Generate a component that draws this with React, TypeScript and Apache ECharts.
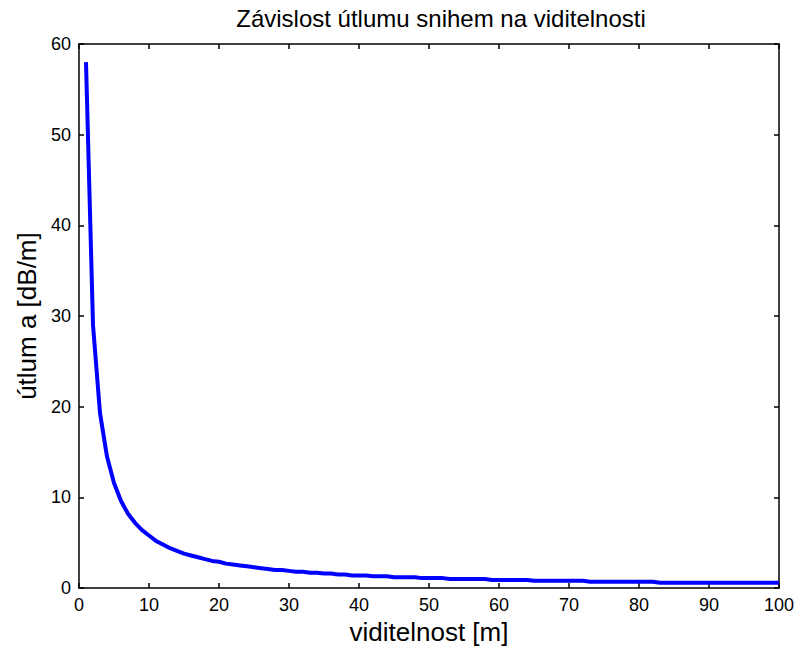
import React, { useEffect, useRef } from "react";
import * as echarts from "echarts";

const titleText = "Závislost útlumu snihem na viditelnosti";
const xName = "viditelnost [m]";
const yName = "útlum a [dB/m]";

const visibility = [
  1, 2, 3, 4, 5, 6, 7, 8, 9, 10,
  11, 12, 13, 14, 15, 16, 17, 18, 19, 20,
  21, 22, 23, 24, 25, 26, 27, 28, 29, 30,
  31, 32, 33, 34, 35, 36, 37, 38, 39, 40,
  41, 42, 43, 44, 45, 46, 47, 48, 49, 50,
  51, 52, 53, 54, 55, 56, 57, 58, 59, 60,
  61, 62, 63, 64, 65, 66, 67, 68, 69, 70,
  71, 72, 73, 74, 75, 76, 77, 78, 79, 80,
  81, 82, 83, 84, 85, 86, 87, 88, 89, 90,
  91, 92, 93, 94, 95, 96, 97, 98, 99, 100,
];

const attenuation = [
  58.0, 29.0, 19.3, 14.5, 11.6, 9.6, 8.2, 7.2, 6.4, 5.8,
  5.2, 4.8, 4.4, 4.1, 3.8, 3.6, 3.4, 3.2, 3.0, 2.9,
  2.7, 2.6, 2.5, 2.4, 2.3, 2.2, 2.1, 2.0, 2.0, 1.9,
  1.8, 1.8, 1.7, 1.7, 1.6, 1.6, 1.5, 1.5, 1.4, 1.4,
  1.4, 1.3, 1.3, 1.3, 1.2, 1.2, 1.2, 1.2, 1.1, 1.1,
  1.1, 1.1, 1.0, 1.0, 1.0, 1.0, 1.0, 1.0, 0.9, 0.9,
  0.9, 0.9, 0.9, 0.9, 0.8, 0.8, 0.8, 0.8, 0.8, 0.8,
  0.8, 0.8, 0.7, 0.7, 0.7, 0.7, 0.7, 0.7, 0.7, 0.7,
  0.7, 0.7, 0.6, 0.6, 0.6, 0.6, 0.6, 0.6, 0.6, 0.6,
  0.6, 0.6, 0.6, 0.6, 0.6, 0.6, 0.6, 0.6, 0.6, 0.6,
];

const FONT = "'Liberation Sans', Arial, Helvetica, sans-serif";

export default function App() {
  const ref = useRef<HTMLDivElement>(null);

  useEffect(() => {
    if (!ref.current) return;
    const chart = echarts.init(ref.current, null, { renderer: "svg" });

    const axisLine = { show: true, onZero: false, lineStyle: { color: "#000", width: 1.5 } };
    const axisTick = { show: true, inside: true, length: 5, lineStyle: { color: "#000", width: 1.5 } };
    const axisLabel = { color: "#000", fontSize: 18, fontFamily: FONT, margin: 8 };

    chart.setOption({
      animation: false,
      backgroundColor: "#fff",
      title: {
        text: titleText,
        left: 436,
        textAlign: "center",
        top: 1,
        textStyle: { color: "#000", fontSize: 24, fontWeight: "normal", fontFamily: FONT },
      },
      grid: { left: 79, right: 21, top: 44, bottom: 60, containLabel: false },
      xAxis: [
        {
          type: "value",
          min: 0,
          max: 100,
          interval: 10,
          position: "bottom",
          name: xName,
          nameLocation: "middle",
          nameGap: 28,
          nameTextStyle: { color: "#000", fontSize: 26, fontFamily: FONT, verticalAlign: "top" },
          axisLine,
          axisTick,
          axisLabel,
          splitLine: { show: false },
        },
        {
          type: "value",
          min: 0,
          max: 100,
          interval: 10,
          position: "top",
          axisLine,
          axisTick,
          axisLabel: { show: false },
          splitLine: { show: false },
        },
      ],
      yAxis: [
        {
          type: "value",
          min: 0,
          max: 60,
          interval: 10,
          position: "left",
          name: yName,
          nameLocation: "middle",
          nameGap: 33,
          nameRotate: 90,
          nameTextStyle: { color: "#000", fontSize: 26, fontFamily: FONT },
          axisLine,
          axisTick,
          axisLabel,
          splitLine: { show: false },
        },
        {
          type: "value",
          min: 0,
          max: 60,
          interval: 10,
          position: "right",
          axisLine,
          axisTick,
          axisLabel: { show: false },
          splitLine: { show: false },
        },
      ],
      series: [
        {
          type: "line",
          xAxisIndex: 0,
          yAxisIndex: 0,
          data: visibility.map((v, i) => [v, attenuation[i]]),
          showSymbol: false,
          symbol: "none",
          lineStyle: { color: "#0000ff", width: 4 },
          itemStyle: { color: "#0000ff" },
        },
      ],
    });

    return () => chart.dispose();
  }, []);

  return <div ref={ref} style={{ width: 800, height: 650, position: "absolute", left: 0, top: 0 }} />;
}
